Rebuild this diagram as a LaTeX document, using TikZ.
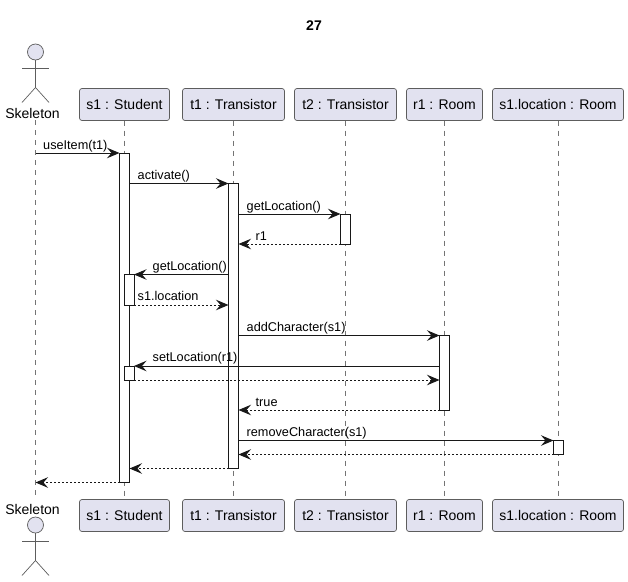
\documentclass[tikz,border=0pt]{standalone}
\usepackage{fontspec}
\setmainfont{Liberation Sans}
\usepackage{tikz}
\usetikzlibrary{arrows.meta}
\definecolor{partfill}{HTML}{E2E2F0}
\definecolor{inkline}{HTML}{181818}
\tikzset{
	partbox/.style={draw=inkline!70, line width=0.7pt, fill=partfill, rounded corners=2.5pt, minimum height=32pt, inner sep=0pt, outer sep=0pt, font=\fontsize{14}{16}\selectfont},
	actorname/.style={inner sep=0pt, outer sep=0pt, minimum height=14pt, font=\fontsize{14}{16}\selectfont},
	actorhead/.style={circle, draw=inkline!70, line width=0.7pt, fill=partfill, minimum size=16pt, inner sep=0pt, outer sep=0pt},
	actorline/.style={draw=inkline!70, line width=0.7pt},
	lifeline/.style={draw=inkline!60, line width=0.7pt, dash pattern=on 5pt off 5pt},
	bar/.style={draw=inkline, line width=1pt, fill=white, minimum width=10pt, inner sep=0pt, outer sep=0pt},
	call/.style={draw=inkline, line width=1pt, -{Stealth[length=12.5pt,width=10.5pt,inset=4.5pt]}},
	reply/.style={call, dash pattern=on 2pt off 2pt},
	msg/.style={anchor=base west, inner sep=0pt, text=black, font=\fontsize{12.7}{15}\selectfont}
}

\begin{document}
\begin{tikzpicture}[x=1pt,y=-1pt]
	\useasboundingbox (0,0) rectangle (628,581);
	\node[font=\bfseries\fontsize{14}{16}\selectfont] (title) at (314,25.5) {27};

	% actors
	\node[actorhead] (skelhead) at (35.5,52) {};
	\coordinate (skelhip) at (35.5,87.5);
	\node[actorname] (skeltop) at (32.5,113) {Skeleton};
	\node[actorname] (skelbot) at (32.5,509) {Skeleton};
	\node[actorhead] (skelhead2) at (35.5,525) {};
	\coordinate (skelhip2) at (35.5,560.5);
	\path[actorline]
	(skelhead.south) edge (skelhip)
	(skelhip) edge +(-13.5,15) edge +(13.5,15)
	(skelhead2.south) edge (skelhip2)
	(skelhip2) edge +(-13.5,15) edge +(13.5,15);
	\draw[actorline] (22,68) -- (49,68) (22,541) -- (49,541);

	% participants, top and bottom
	\foreach \name/\label/\x/\w in {stud/s1 : Student/124.5/90, tra/t1 : Transistor/233.5/102, trb/t2 : Transistor/345.5/102, room/r1 : Room/444.5/76, loc/s1.location : Room/558/131} {
		\node[partbox, minimum width=\w pt] (\name top) at (\x,104.5) {\label};
		\node[partbox, minimum width=\w pt] (\name bot) at (\x,515.5) {\label};
		\draw[lifeline] (\name top.south) -- ([yshift=2.5pt]\name bot.north);
	}
	\coordinate (skelfoot) at (35.5,497);
	\draw[lifeline] (skelhead |- skeltop.south) -- (skelfoot);

	% activations
	\node[bar, minimum height=329pt] (a1) at (124.5,318) {};
	\node[bar, minimum height=285pt] (a2) at (233.5,326) {};
	\node[bar, minimum height=30pt] (a3) at (345.5,229) {};
	\node[bar, minimum height=31pt] (a4) at (129,290) {};
	\node[bar, minimum height=14pt] (a5) at (129,373) {};
	\node[bar, minimum height=74.5pt] (a6) at (444.5,372.75) {};
	\node[bar, minimum height=14pt] (a7) at (558.5,447.5) {};

	\foreach \n/\y in {1/153,2/183.5,3/214,4/244,5/274.5,6/305,7/335.5,8/366,9/380,10/410,11/440.5,12/454.5,13/468.5,14/482.5}
		\coordinate (y\n) at (0,\y);

	% messages
	\path[every edge/.style={call}]
	(skelfoot |- y1) edge (a1.west |- y1)
	(a1.east |- y2) edge (a2.west |- y2)
	(a2.east |- y3) edge (a3.west |- y3)
	(a2.west |- y5) edge (a4.east |- y5)
	(a2.east |- y7) edge (a6.west |- y7)
	(a6.west |- y8) edge (a5.east |- y8)
	(a2.east |- y11) edge (a7.west |- y11)
	;
	\path[every edge/.style={reply}]
	(a3.west |- y4) edge (a2.east |- y4)
	(a4.east |- y6) edge (a2.west |- y6)
	(a5.east |- y9) edge (a6.west |- y9)
	(a6.west |- y10) edge (a2.east |- y10)
	(a7.west |- y12) edge (a2.east |- y12)
	(a2.west |- y13) edge (a1.east |- y13)
	(a1.west |- y14) edge (skelfoot |- y14)
	;

	% message labels
	\node[msg] (m1) at (43,149) {useItem(t1)};
	\node[msg] (m2) at (137.5,179) {activate()};
	\node[msg] (m3) at (246.5,210) {getLocation()};
	\node[msg] (m4) at (255.5,240) {r1};
	\node[msg] (m5) at (152.5,270) {getLocation()};
	\node[msg] (m6) at (137.5,300.5) {s1.location};
	\node[msg] (m7) at (246.5,331) {addCharacter(s1)};
	\node[msg] (m8) at (152.5,361.5) {setLocation(r1)};
	\node[msg] (m10) at (255.5,406) {true};
	\node[msg] (m11) at (246.5,436) {removeCharacter(s1)};
\end{tikzpicture}
\end{document}
